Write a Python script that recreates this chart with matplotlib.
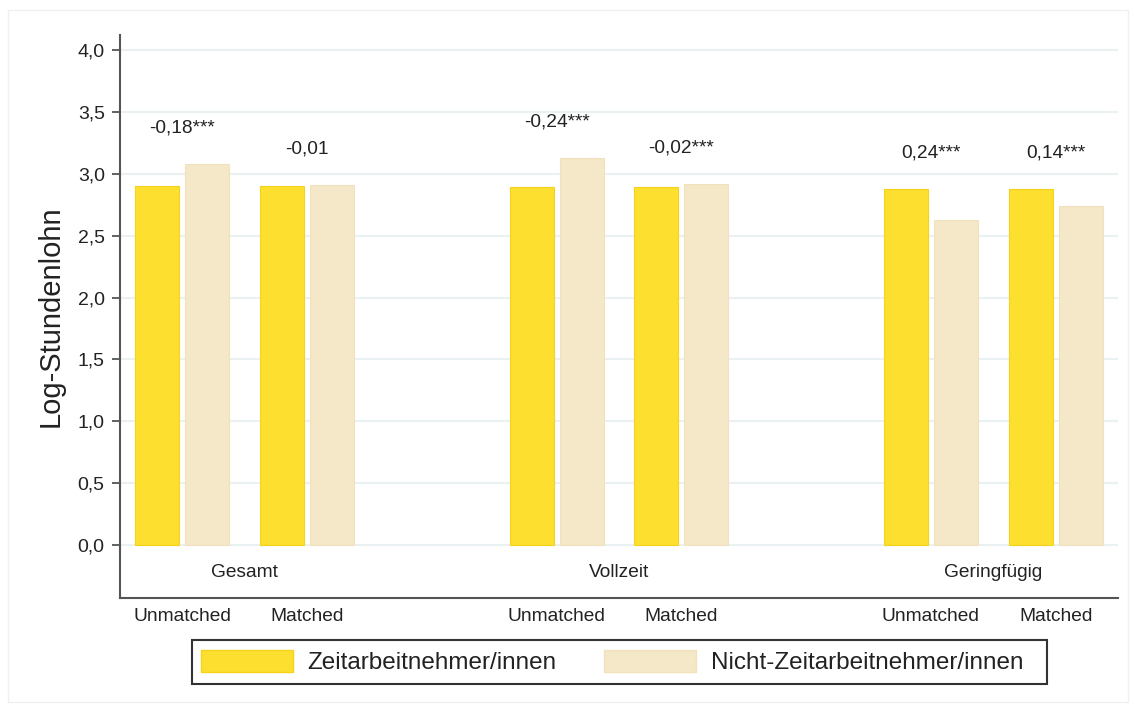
import matplotlib.pyplot as plt
import matplotlib.ticker as mticker
from matplotlib.patches import Rectangle, Patch
import numpy as np

plt.rcParams['font.family'] = ['Liberation Sans', 'DejaVu Sans']

groups = ['Gesamt', 'Vollzeit', 'Geringfügig']
samples = ['Unmatched', 'Matched']
zeitarbeit = [2.90, 2.90, 2.89, 2.89, 2.88, 2.88]
nicht_zeitarbeit = [3.08, 2.91, 3.13, 2.92, 2.63, 2.74]
differenz = ['-0,18***', '-0,01', '-0,24***', '-0,02***', '0,24***', '0,14***']

c_zeit = '#fddf30'
c_zeit_edge = '#f6d21a'
c_nicht = '#f5e8c8'
c_nicht_edge = '#f2e2bc'
c_text = '#222222'
c_spine = '#555555'

W, H = 1135, 713
fig = plt.figure(figsize=(W / 100, H / 100), dpi=100)
# faint outer frame
fig.patches.append(Rectangle((8 / W, 11 / H), 1120 / W, 692 / H,
                             transform=fig.transFigure, fill=False,
                             edgecolor='#f0f0f0', lw=1))
ax = fig.add_axes([120 / W, 115 / H, 998 / W, 563 / H])

# pair positions: two pairs per group, one empty slot between groups
pos = []
for g in range(len(groups)):
    pos += [3 * g, 3 * g + 1]
pos = np.array(pos, dtype=float)
w = 0.352
off = 0.2

ax.bar(pos - off, zeitarbeit, w, color=c_zeit, edgecolor=c_zeit_edge, lw=0.8, zorder=3)
ax.bar(pos + off, nicht_zeitarbeit, w, color=c_nicht, edgecolor=c_nicht_edge, lw=0.8, zorder=3)

for x, a, b, lab in zip(pos, zeitarbeit, nicht_zeitarbeit, differenz):
    ax.text(x, max(a, b) + 0.29, lab, ha='center', va='center',
            fontsize=13.8, color=c_text)

for g, name in enumerate(groups):
    ax.text(3 * g + 0.5, -0.225, name, ha='center', va='center',
            fontsize=13.8, color=c_text)

ax.set_xlim(-0.5, 7.5)
ax.set_ylim(-0.428, 4.121)
ax.set_xticks(pos)
ax.set_xticklabels(samples * len(groups), fontsize=13.8, color=c_text)
ax.tick_params(axis='x', length=0, pad=7)

ax.set_yticks(np.arange(0, 4.01, 0.5))
ax.yaxis.set_major_formatter(mticker.FuncFormatter(lambda v, p: f'{v:.1f}'.replace('.', ',')))
ax.tick_params(axis='y', length=6, width=1.3, color=c_spine, pad=5,
               labelsize=14, labelcolor=c_text)
ax.grid(axis='y', color='#e9f1f3', lw=1.5, zorder=0)
ax.set_axisbelow(True)

for s in ['top', 'right']:
    ax.spines[s].set_visible(False)
for s in ['left', 'bottom']:
    ax.spines[s].set_color(c_spine)
    ax.spines[s].set_linewidth(1.5)

ax.set_ylabel('Log-Stundenlohn', fontsize=21, color=c_text, labelpad=9)

handles = [Patch(facecolor=c_zeit, edgecolor=c_zeit_edge),
           Patch(facecolor=c_nicht, edgecolor=c_nicht_edge)]
leg = fig.legend(handles, ['Zeitarbeitnehmer/innen', 'Nicht-Zeitarbeitnehmer/innen'],
                 loc='center', bbox_to_anchor=(612 / W, 51 / H), ncol=2,
                 fontsize=17.5, frameon=False,
                 handlelength=3.8, handleheight=1.0, handletextpad=0.6,
                 columnspacing=1.95, borderpad=0.3)
for t in leg.get_texts():
    t.set_color(c_text)
# legend box with wider right margin
fig.patches.append(Rectangle((192 / W, 29 / H), 855 / W, 44 / H,
                             transform=fig.transFigure, fill=False,
                             edgecolor='#333333', lw=1.5))

fig.savefig('out.png', dpi=100)
